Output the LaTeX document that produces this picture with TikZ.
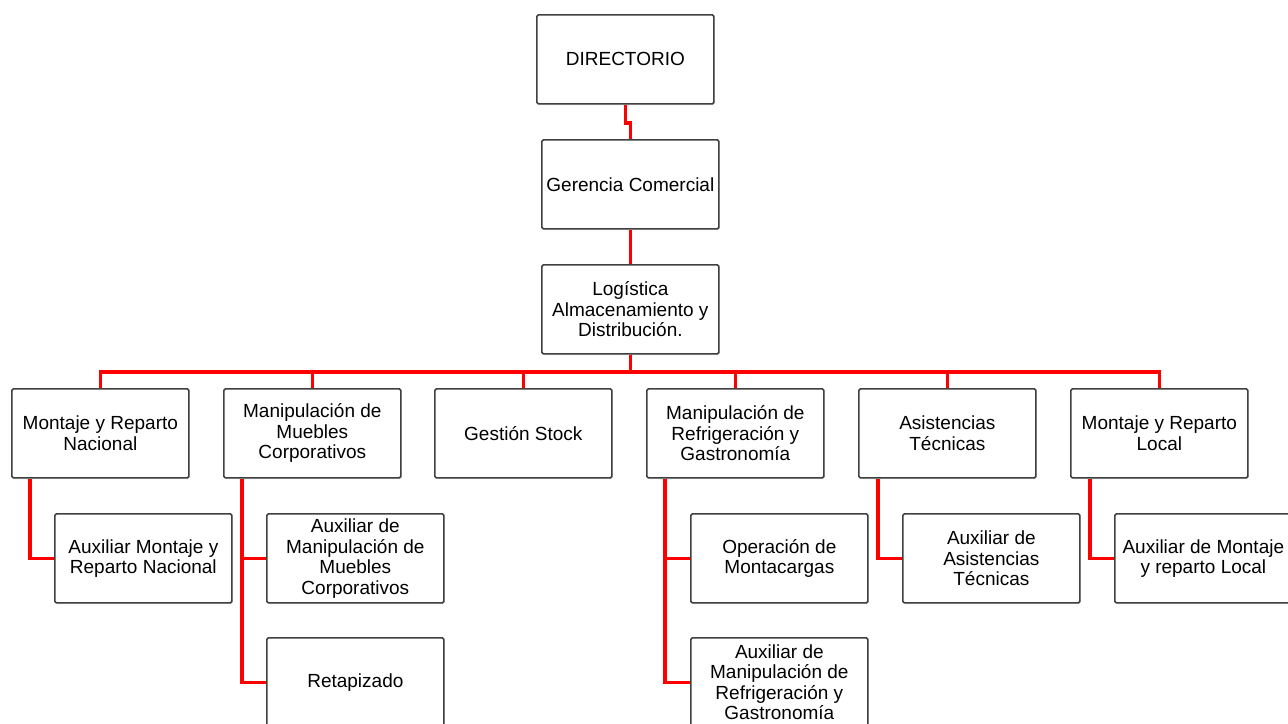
\documentclass[tikz,border=0pt]{standalone}
\usepackage{fontspec}
\setmainfont{Liberation Sans}
\usetikzlibrary{shadows}
\begin{document}
\begin{tikzpicture}[x=1pt,y=-1pt,
  box/.style={draw=black!75, line width=1.7pt, fill=white, rounded corners=1.5pt,
    minimum width=177pt, minimum height=89pt, inner sep=0pt, anchor=north west,
    align=center, font=\fontsize{19}{20.5}\selectfont,
    drop shadow={shadow xshift=1pt, shadow yshift=-1.2pt, opacity=0.22}},
  conn/.style={draw=red, line width=3.6pt}]
\useasboundingbox (0,0) rectangle (1288,723);
\fill[white] (0,0) rectangle (1288,723);
% nodes
\node[box] (dir) at (536,14) {DIRECTORIO};
\node[box] (ger) at (541,139) {Gerencia Comercial};
\node[box] (log) at (541,264) {Logística\\Almacenamiento y\\Distribución.};
\node[box] (n1) at (11,388) {Montaje y Reparto\\Nacional};
\node[box] (n2) at (223,388) {Manipulación de\\Muebles\\Corporativos};
\node[box] (n3) at (434,388) {Gestión Stock};
\node[box] (n4) at (646,388) {Manipulación de\\Refrigeración y\\Gastronomía};
\node[box] (n5) at (858,388) {Asistencias\\Técnicas};
\node[box] (n6) at (1070,388) {Montaje y Reparto\\Local};
\node[box] (a1) at (54,513) {Auxiliar Montaje y\\Reparto Nacional};
\node[box] (a2) at (266,513) {Auxiliar de\\Manipulación de\\Muebles\\Corporativos};
\node[box] (a3) at (266,637) {Retapizado};
\node[box] (a4) at (690,513) {Operación de\\Montacargas};
\node[box] (a5) at (690,637) {Auxiliar de\\Manipulación de\\Refrigeración y\\Gastronomía};
\node[box] (a6) at (902,513) {Auxiliar de\\Asistencias\\Técnicas};
\node[box] (a7) at (1114,513) {Auxiliar de Montaje\\y reparto Local};
% connectors
\draw[conn] (dir.south) -- ++(0,18) -| (ger.north);
\draw[conn] (ger.south) -- (log.north);
\foreach \n in {n1,n2,n3,n4,n5,n6}
  \draw[conn] (log.south) -- ++(0,17) -| (\n.north);
\draw[conn] ([xshift=19pt]n1.south west) |- (a1.west);
\draw[conn] ([xshift=19pt]n2.south west) |- (a2.west);
\draw[conn] ([xshift=19pt]n2.south west) |- (a3.west);
\draw[conn] ([xshift=19pt]n4.south west) |- (a4.west);
\draw[conn] ([xshift=19pt]n4.south west) |- (a5.west);
\draw[conn] ([xshift=20pt]n5.south west) |- (a6.west);
\draw[conn] ([xshift=20pt]n6.south west) |- (a7.west);
\end{tikzpicture}
\end{document}
